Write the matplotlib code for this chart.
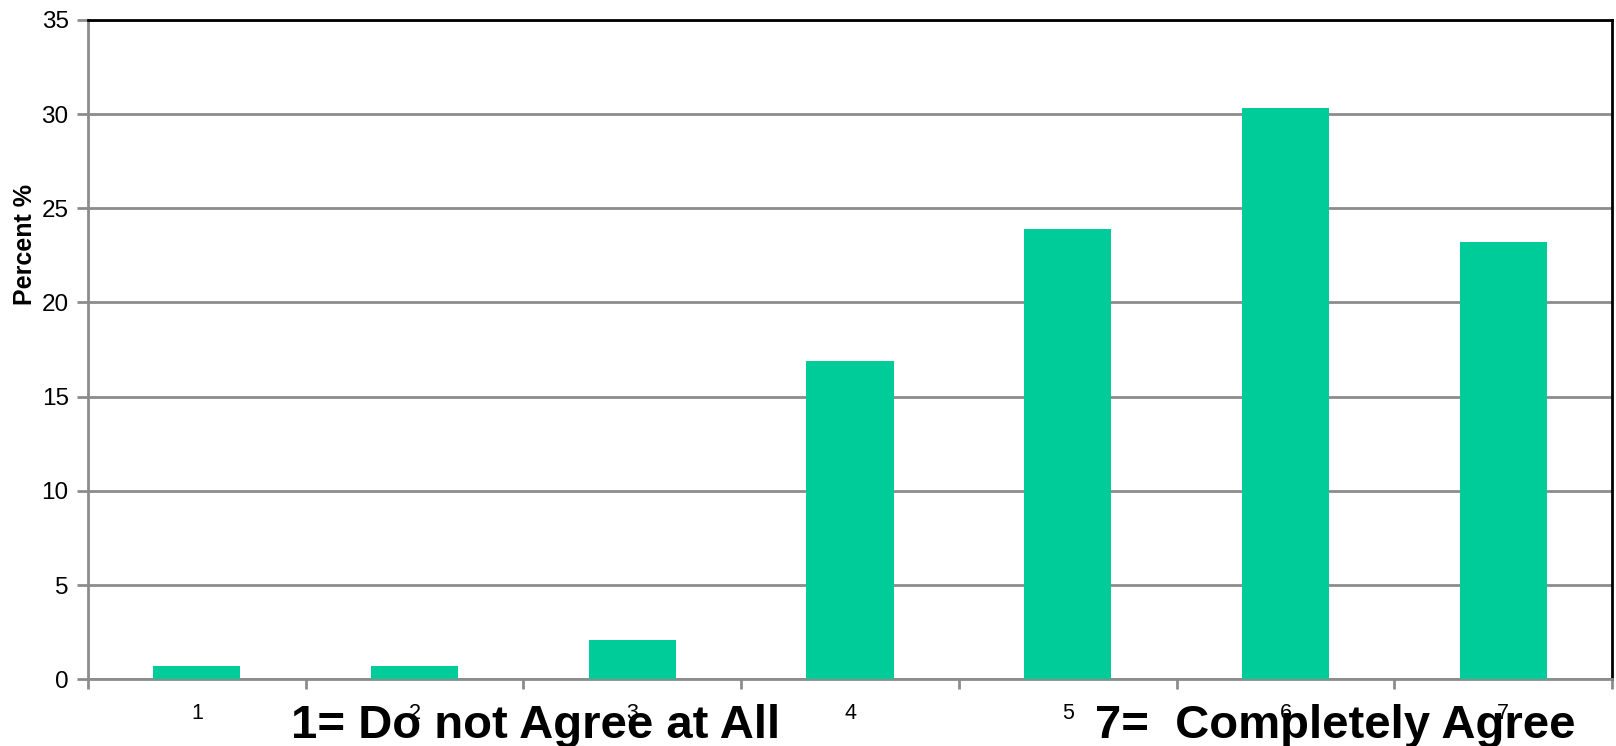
import numpy as np
import matplotlib.pyplot as plt

plt.rcParams['font.family'] = ['Liberation Sans', 'DejaVu Sans']

# Agreement scale (1-7) and share of responses in percent
categories = ['1', '2', '3', '4', '5', '6', '7']
percent = [0.7, 0.7, 2.1, 16.9, 23.9, 30.3, 23.2]
y_ticks = [0, 5, 10, 15, 20, 25, 30, 35]

BAR_COLOR = '#00CC99'
GRID_COLOR = '#8c8c8c'

fig = plt.figure(figsize=(16.16, 7.46), dpi=100)
ax = fig.add_axes([0.0545, 0.0894, 0.943, 0.884])

x = np.arange(len(categories))
ax.bar(x, percent, width=0.4, color=BAR_COLOR, zorder=3)

ax.set_xlim(-0.5, len(categories) - 0.5)
ax.set_ylim(0, 35)
ax.set_yticks(y_ticks)
ax.set_yticklabels([str(t) for t in y_ticks], fontsize=17.5)

# category labels sit between the boundary tick marks
ax.set_xticks(np.arange(len(categories) + 1) - 0.5)
ax.set_xticklabels([])
ax.set_xticks(x, minor=True)
ax.set_xticklabels(categories, minor=True, fontsize=15.5)
ax.tick_params(axis='x', which='minor', length=0, pad=17)
ax.tick_params(axis='x', which='major', length=7, width=2, color=GRID_COLOR)
ax.tick_params(axis='y', length=8, width=2, color=GRID_COLOR, pad=6)

ax.yaxis.grid(True, color=GRID_COLOR, linewidth=2, zorder=1)
ax.set_axisbelow(True)

for side in ['left', 'bottom']:
    ax.spines[side].set_color(GRID_COLOR)
    ax.spines[side].set_linewidth(2)
for side in ['top', 'right']:
    ax.spines[side].set_color('black')
    ax.spines[side].set_linewidth(2)

fig.text(0.0155, 0.672, 'Percent %', rotation=90, fontsize=18, fontweight='bold',
         ha='center', va='center')

fig.text(0.3317, 0.0107, '1= Do not Agree at All', fontsize=34, fontweight='bold',
         ha='center', va='baseline')
fig.text(0.826, 0.0107, '7=  Completely Agree', fontsize=34, fontweight='bold',
         ha='center', va='baseline')

fig.savefig('out.png', dpi=100)
